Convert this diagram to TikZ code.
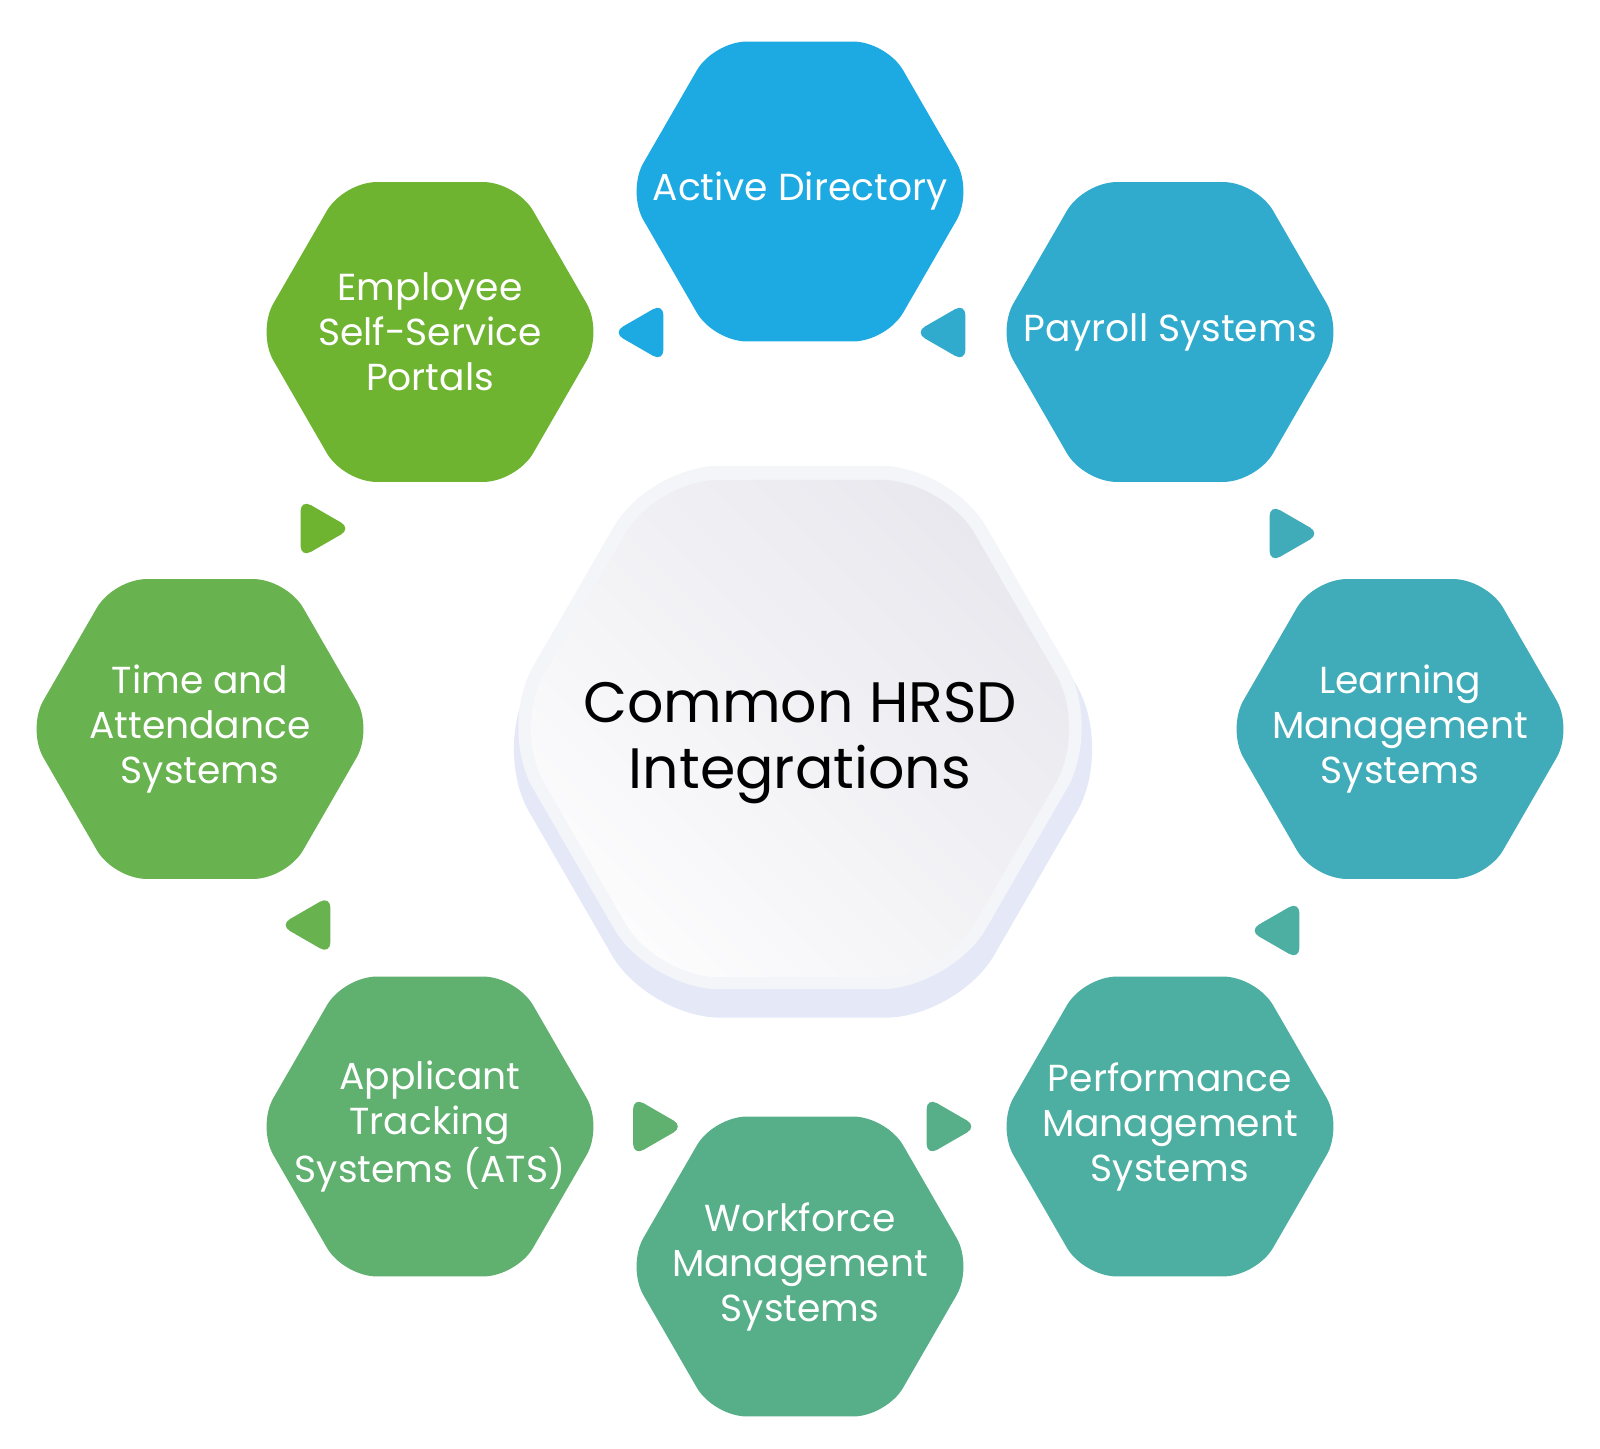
\documentclass[tikz,border=0pt]{standalone}
\usepackage{fontspec}
\setmainfont{Poppins}
\usetikzlibrary{shapes.geometric,positioning,calc}
\definecolor{cActdir}{HTML}{1DA9E1}
\definecolor{cPayroll}{HTML}{30AACD}
\definecolor{cLms}{HTML}{41ACB9}
\definecolor{cPerf}{HTML}{4CAFA1}
\definecolor{cWfm}{HTML}{56AF89}
\definecolor{cAts}{HTML}{60B06F}
\definecolor{cTna}{HTML}{68B24F}
\definecolor{cEss}{HTML}{6EB430}
\definecolor{cShadow}{HTML}{E5E8F6}
\definecolor{cRing}{HTML}{F4F5F9}
\definecolor{cCoreHi}{HTML}{E8E8EE}
\definecolor{cCoreLo}{HTML}{FCFCFD}
\tikzset{
	hexa/.style={regular polygon,regular polygon sides=6,minimum size=3.46cm,inner sep=0pt,fill=#1,rounded corners=0.33cm},
	hexlabel/.style={inner sep=0pt,text=white,align=center,font=\fontsize{10.7pt}{12.8pt}\selectfont},
	corehex/.style={regular polygon,regular polygon sides=6,inner sep=0pt},
	corelabel/.style={inner sep=0pt,align=center,font=\fontsize{16.2pt}{18.8pt}\selectfont},
	flowtip/.pic={\fill[#1,rounded corners=0.12cm] (-19.4,0) -- (-19.4,-29.3) -- (31.4,0) -- (-19.4,29.3) -- cycle;},
}
\begin{document}
\begin{tikzpicture}[x=0.01cm,y=-0.01cm]
	\useasboundingbox (0,0) rectangle (1600,1449);
	% centre hexagon
	\node[corehex,minimum size=6.2cm,fill=cShadow,rounded corners=0.72cm] (coreshadow) at (803,749){};
	\node[corehex,minimum size=6.04cm,fill=cRing,rounded corners=0.7cm] (corering) at (800,727.5){};
	\node[corehex,minimum size=5.74cm,rounded corners=0.62cm,top color=cCoreHi,bottom color=cCoreLo,shading angle=-45] (core) at (800,728.5){};
	\node[corelabel] (coreT) at ($(core)+(0,15)$) {Common HRSD\\Integrations};
	% outer ring
	\node[hexa=cActdir] (actdir) at (800,191.5){};
	\node[hexa=cPayroll] (payroll) at (1170,332){};
	\node[hexa=cLms] (lms) at (1400,729){};
	\node[hexa=cPerf] (perf) at (1170,1126.5){};
	\node[hexa=cWfm] (wfm) at (800,1266.5){};
	\node[hexa=cAts] (ats) at (430,1126.5){};
	\node[hexa=cTna] (tna) at (200,729){};
	\node[hexa=cEss] (ess) at (430,332){};
	\node[hexlabel] (actdirT) at (actdir) {Active Directory};
	\node[hexlabel] (payrollT) at (payroll) {Payroll Systems};
	\node[hexlabel] (lmsT) at (lms) {Learning\\Management\\Systems};
	\node[hexlabel] (perfT) at (perf) {Performance\\Management\\Systems};
	\node[hexlabel] (wfmT) at (wfm) {Workforce\\Management\\Systems};
	\node[hexlabel] (atsT) at (ats) {Applicant\\Tracking\\Systems (ATS)};
	\node[hexlabel] (tnaT) at (tna) {Time and\\Attendance\\Systems};
	\node[hexlabel] (essT) at (ess) {Employee\\Self-Service\\Portals};
	% small arrow tips between the hexagons
	\pic[rotate=180] at (644,332.5) {flowtip=cActdir};
	\pic[rotate=180] at (946,332.5) {flowtip=cPayroll};
	\pic at (1289,533.5) {flowtip=cLms};
	\pic[rotate=180] at (1280,930.5) {flowtip=cPerf};
	\pic at (946,1126.5) {flowtip=cWfm};
	\pic at (652.5,1126.5) {flowtip=cAts};
	\pic[rotate=180] at (311,925) {flowtip=cTna};
	\pic at (320,528.5) {flowtip=cEss};
\end{tikzpicture}
\end{document}
